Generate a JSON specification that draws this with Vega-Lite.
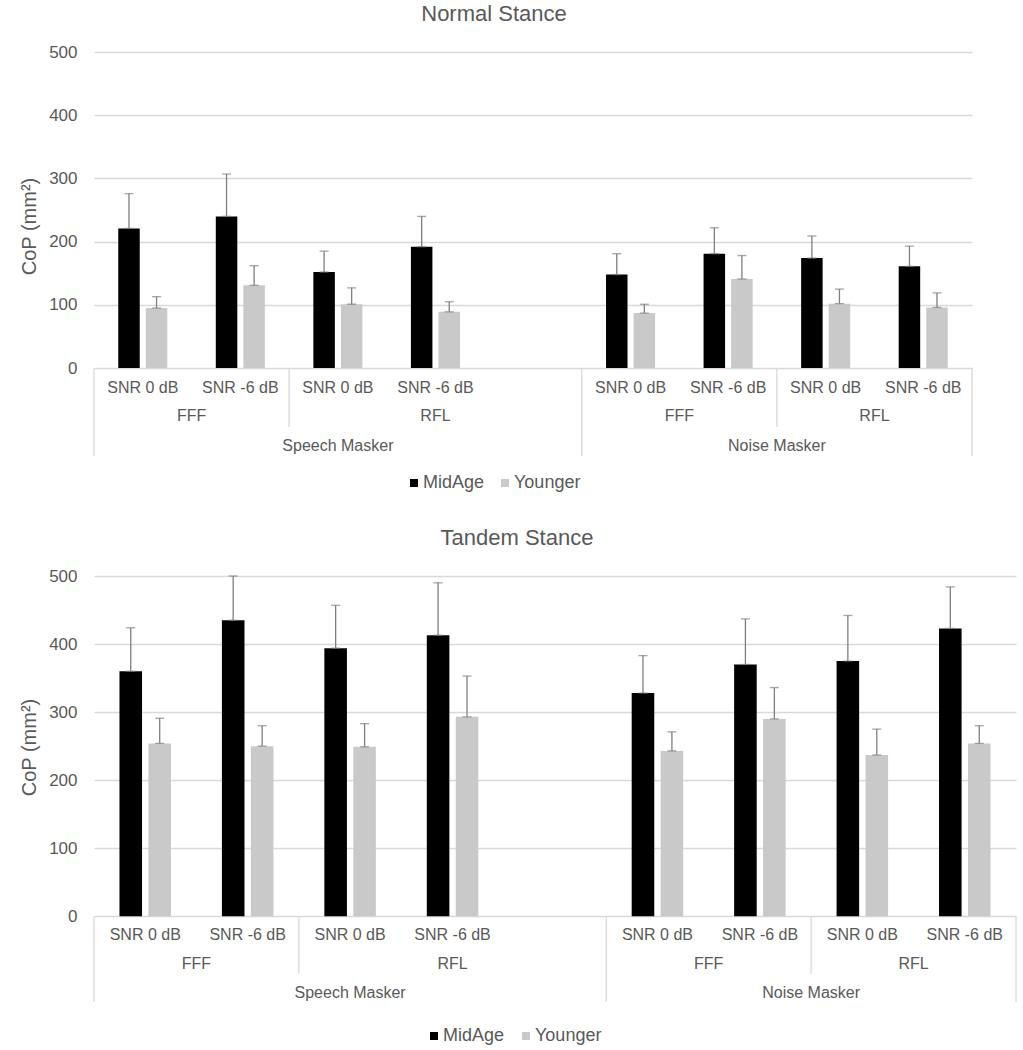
{
  "$schema": "https://vega.github.io/schema/vega-lite/v6.json",
  "padding": {"left": 19, "top": 3, "right": 5, "bottom": 5},
  "background": "white",
  "config": {
    "font": "Liberation Sans",
    "view": {"stroke": null},
    "axis": {"labelColor": "#595959", "titleColor": "#595959", "labelFont": "Liberation Sans", "titleFont": "Liberation Sans"},
    "legend": {"labelColor": "#595959", "labelFont": "Liberation Sans"}
  },
  "datasets": {
    "normal": [
      {"masker": "Speech Masker", "stim": "FFF", "snr": "SNR 0 dB", "slot": "1", "age": "MidAge", "mean": 221, "hi": 276},
      {"masker": "Speech Masker", "stim": "FFF", "snr": "SNR 0 dB", "slot": "1", "age": "Younger", "mean": 95, "hi": 113},
      {"masker": "Speech Masker", "stim": "FFF", "snr": "SNR -6 dB", "slot": "2", "age": "MidAge", "mean": 240, "hi": 307},
      {"masker": "Speech Masker", "stim": "FFF", "snr": "SNR -6 dB", "slot": "2", "age": "Younger", "mean": 131, "hi": 162},
      {"masker": "Speech Masker", "stim": "RFL", "snr": "SNR 0 dB", "slot": "3", "age": "MidAge", "mean": 152, "hi": 185},
      {"masker": "Speech Masker", "stim": "RFL", "snr": "SNR 0 dB", "slot": "3", "age": "Younger", "mean": 101, "hi": 127},
      {"masker": "Speech Masker", "stim": "RFL", "snr": "SNR -6 dB", "slot": "4", "age": "MidAge", "mean": 192, "hi": 240},
      {"masker": "Speech Masker", "stim": "RFL", "snr": "SNR -6 dB", "slot": "4", "age": "Younger", "mean": 89, "hi": 105},
      {"masker": "Noise Masker", "stim": "FFF", "snr": "SNR 0 dB", "slot": "6", "age": "MidAge", "mean": 148, "hi": 181},
      {"masker": "Noise Masker", "stim": "FFF", "snr": "SNR 0 dB", "slot": "6", "age": "Younger", "mean": 87, "hi": 101},
      {"masker": "Noise Masker", "stim": "FFF", "snr": "SNR -6 dB", "slot": "7", "age": "MidAge", "mean": 181, "hi": 222},
      {"masker": "Noise Masker", "stim": "FFF", "snr": "SNR -6 dB", "slot": "7", "age": "Younger", "mean": 141, "hi": 178},
      {"masker": "Noise Masker", "stim": "RFL", "snr": "SNR 0 dB", "slot": "8", "age": "MidAge", "mean": 174, "hi": 209},
      {"masker": "Noise Masker", "stim": "RFL", "snr": "SNR 0 dB", "slot": "8", "age": "Younger", "mean": 102, "hi": 125},
      {"masker": "Noise Masker", "stim": "RFL", "snr": "SNR -6 dB", "slot": "9", "age": "MidAge", "mean": 161, "hi": 193},
      {"masker": "Noise Masker", "stim": "RFL", "snr": "SNR -6 dB", "slot": "9", "age": "Younger", "mean": 96, "hi": 119}
    ],
    "tandem": [
      {"masker": "Speech Masker", "stim": "FFF", "snr": "SNR 0 dB", "slot": "1", "age": "MidAge", "mean": 360, "hi": 424},
      {"masker": "Speech Masker", "stim": "FFF", "snr": "SNR 0 dB", "slot": "1", "age": "Younger", "mean": 254, "hi": 291},
      {"masker": "Speech Masker", "stim": "FFF", "snr": "SNR -6 dB", "slot": "2", "age": "MidAge", "mean": 435, "hi": 500},
      {"masker": "Speech Masker", "stim": "FFF", "snr": "SNR -6 dB", "slot": "2", "age": "Younger", "mean": 250, "hi": 280},
      {"masker": "Speech Masker", "stim": "RFL", "snr": "SNR 0 dB", "slot": "3", "age": "MidAge", "mean": 394, "hi": 457},
      {"masker": "Speech Masker", "stim": "RFL", "snr": "SNR 0 dB", "slot": "3", "age": "Younger", "mean": 249, "hi": 283},
      {"masker": "Speech Masker", "stim": "RFL", "snr": "SNR -6 dB", "slot": "4", "age": "MidAge", "mean": 413, "hi": 490},
      {"masker": "Speech Masker", "stim": "RFL", "snr": "SNR -6 dB", "slot": "4", "age": "Younger", "mean": 293, "hi": 353},
      {"masker": "Noise Masker", "stim": "FFF", "snr": "SNR 0 dB", "slot": "6", "age": "MidAge", "mean": 328, "hi": 383},
      {"masker": "Noise Masker", "stim": "FFF", "snr": "SNR 0 dB", "slot": "6", "age": "Younger", "mean": 243, "hi": 271},
      {"masker": "Noise Masker", "stim": "FFF", "snr": "SNR -6 dB", "slot": "7", "age": "MidAge", "mean": 370, "hi": 437},
      {"masker": "Noise Masker", "stim": "FFF", "snr": "SNR -6 dB", "slot": "7", "age": "Younger", "mean": 290, "hi": 336},
      {"masker": "Noise Masker", "stim": "RFL", "snr": "SNR 0 dB", "slot": "8", "age": "MidAge", "mean": 375, "hi": 442},
      {"masker": "Noise Masker", "stim": "RFL", "snr": "SNR 0 dB", "slot": "8", "age": "Younger", "mean": 237, "hi": 275},
      {"masker": "Noise Masker", "stim": "RFL", "snr": "SNR -6 dB", "slot": "9", "age": "MidAge", "mean": 423, "hi": 484},
      {"masker": "Noise Masker", "stim": "RFL", "snr": "SNR -6 dB", "slot": "9", "age": "Younger", "mean": 254, "hi": 280}
    ],
    "stimEdge": [
      {"slot": "2", "label": "FFF"},
      {"slot": "7", "label": "FFF"},
      {"slot": "9", "label": "RFL"}
    ],
    "stimMid": [
      {"slot": "4", "label": "RFL"}
    ],
    "maskerEdge": [
      {"slot": "8", "label": "Noise Masker"}
    ],
    "maskerMid": [
      {"slot": "3", "label": "Speech Masker"}
    ],
    "longLeft": [
      {"slot": "1"},
      {"slot": "6"}
    ],
    "longRight": [
      {"slot": "9"}
    ],
    "shortLeft": [
      {"slot": "3"},
      {"slot": "8"}
    ]
  },
  "resolve": {
    "scale": {"color": "independent", "x": "independent", "y": "independent", "xOffset": "independent"},
    "legend": {"color": "independent"}
  },
  "spacing": 35,
  "vconcat": [
    {
      "width": 878,
      "height": 404,
      "title": {"text": "Normal Stance", "fontSize": 22, "fontWeight": "normal", "color": "#595959", "font": "Liberation Sans", "anchor": "middle", "dx": -39, "baseline": "alphabetic", "offset": 0},
      "layer": [
        {
          "data": {"name": "normal"},
          "mark": {"type": "bar"},
          "encoding": {
            "x": {"field": "slot", "type": "nominal", "scale": {"domain": ["1","2","3","4","5","6","7","8","9"], "paddingInner": 0, "paddingOuter": 0}, "axis": null},
            "xOffset": {"field": "age", "type": "nominal", "scale": {"domain": ["MidAge", "Younger"], "paddingInner": 0.22, "paddingOuter": 0.88}},
            "y": {"field": "mean", "type": "quantitative", "scale": {"domain": [-139, 500], "nice": false, "zero": false},
              "axis": {"values": [0, 100, 200, 300, 400, 500], "title": "CoP (mm²)", "titleFontSize": 20, "titleFontWeight": "normal", "titlePadding": 9, "titleY": 174, "labelFontSize": 17, "labelPadding": 17, "ticks": false, "tickSize": 0, "domain": false, "grid": true, "gridColor": "#D9D9D9", "gridWidth": 1.3}},
            "color": {"field": "age", "type": "nominal", "scale": {"domain": ["MidAge", "Younger"], "range": ["#000000", "#C9C9C9"]},
              "legend": {"title": null, "orient": "none", "direction": "horizontal", "legendX": 311, "legendY": 422, "symbolType": "square", "symbolSize": 64, "symbolStrokeWidth": 0, "labelFontSize": 18, "labelOffset": 0, "columnPadding": 11, "padding": 0}}
          }
        },
        {
          "data": {"name": "normal"},
          "mark": {"type": "rule", "color": "#7F7F7F", "strokeWidth": 1.3},
          "encoding": {
            "x": {"field": "slot", "type": "nominal", "scale": {"domain": ["1","2","3","4","5","6","7","8","9"], "paddingInner": 0, "paddingOuter": 0}},
            "xOffset": {"field": "age", "type": "nominal", "scale": {"domain": ["MidAge", "Younger"], "paddingInner": 0.22, "paddingOuter": 0.88}},
            "y": {"field": "mean", "type": "quantitative"},
            "y2": {"field": "hi"}
          }
        },
        {
          "data": {"name": "normal"},
          "mark": {"type": "tick", "color": "#7F7F7F", "thickness": 1.3, "size": 9, "orient": "horizontal"},
          "encoding": {
            "x": {"field": "slot", "type": "nominal", "scale": {"domain": ["1","2","3","4","5","6","7","8","9"], "paddingInner": 0, "paddingOuter": 0}},
            "xOffset": {"field": "age", "type": "nominal", "scale": {"domain": ["MidAge", "Younger"], "paddingInner": 0.22, "paddingOuter": 0.88}},
            "y": {"field": "hi", "type": "quantitative"}
          }
        },
        {
          "data": {"name": "normal"},
          "mark": {"type": "tick", "color": "#7F7F7F", "thickness": 1.3, "size": 9, "orient": "horizontal"},
          "encoding": {
            "x": {"field": "slot", "type": "nominal", "scale": {"domain": ["1","2","3","4","5","6","7","8","9"], "paddingInner": 0, "paddingOuter": 0}},
            "xOffset": {"field": "age", "type": "nominal", "scale": {"domain": ["MidAge", "Younger"], "paddingInner": 0.22, "paddingOuter": 0.88}},
            "y": {"field": "mean", "type": "quantitative"}
          }
        },
        {
          "data": {"name": "normal"},
          "transform": [{"filter": "datum.age === 'MidAge'"}],
          "mark": {"type": "text", "fontSize": 16, "color": "#595959", "baseline": "middle"},
          "encoding": {
            "x": {"field": "slot", "type": "nominal", "scale": {"domain": ["1","2","3","4","5","6","7","8","9"], "paddingInner": 0, "paddingOuter": 0}},
            "y": {"datum": -31, "type": "quantitative"},
            "text": {"field": "snr"}
          }
        },
        {
          "data": {"name": "stimEdge"},
          "mark": {"type": "text", "fontSize": 16, "color": "#595959", "baseline": "middle"},
          "encoding": {
            "x": {"field": "slot", "type": "nominal", "bandPosition": 0, "scale": {"domain": ["1","2","3","4","5","6","7","8","9"], "paddingInner": 0, "paddingOuter": 0}},
            "y": {"datum": -76, "type": "quantitative"},
            "text": {"field": "label"}
          }
        },
        {
          "data": {"name": "stimMid"},
          "mark": {"type": "text", "fontSize": 16, "color": "#595959", "baseline": "middle"},
          "encoding": {
            "x": {"field": "slot", "type": "nominal", "bandPosition": 0.5, "scale": {"domain": ["1","2","3","4","5","6","7","8","9"], "paddingInner": 0, "paddingOuter": 0}},
            "y": {"datum": -76, "type": "quantitative"},
            "text": {"field": "label"}
          }
        },
        {
          "data": {"name": "maskerEdge"},
          "mark": {"type": "text", "fontSize": 16, "color": "#595959", "baseline": "middle"},
          "encoding": {
            "x": {"field": "slot", "type": "nominal", "bandPosition": 0, "scale": {"domain": ["1","2","3","4","5","6","7","8","9"], "paddingInner": 0, "paddingOuter": 0}},
            "y": {"datum": -123, "type": "quantitative"},
            "text": {"field": "label"}
          }
        },
        {
          "data": {"name": "maskerMid"},
          "mark": {"type": "text", "fontSize": 16, "color": "#595959", "baseline": "middle"},
          "encoding": {
            "x": {"field": "slot", "type": "nominal", "bandPosition": 0.5, "scale": {"domain": ["1","2","3","4","5","6","7","8","9"], "paddingInner": 0, "paddingOuter": 0}},
            "y": {"datum": -123, "type": "quantitative"},
            "text": {"field": "label"}
          }
        },
        {
          "data": {"name": "longLeft"},
          "mark": {"type": "rule", "color": "#D9D9D9", "strokeWidth": 1.3},
          "encoding": {
            "x": {"field": "slot", "type": "nominal", "bandPosition": 0, "scale": {"domain": ["1","2","3","4","5","6","7","8","9"], "paddingInner": 0, "paddingOuter": 0}},
            "y": {"datum": 0, "type": "quantitative"},
            "y2": {"datum": -139}
          }
        },
        {
          "data": {"name": "longRight"},
          "mark": {"type": "rule", "color": "#D9D9D9", "strokeWidth": 1.3},
          "encoding": {
            "x": {"field": "slot", "type": "nominal", "bandPosition": 1, "scale": {"domain": ["1","2","3","4","5","6","7","8","9"], "paddingInner": 0, "paddingOuter": 0}},
            "y": {"datum": 0, "type": "quantitative"},
            "y2": {"datum": -139}
          }
        },
        {
          "data": {"name": "shortLeft"},
          "mark": {"type": "rule", "color": "#D9D9D9", "strokeWidth": 1.3},
          "encoding": {
            "x": {"field": "slot", "type": "nominal", "bandPosition": 0, "scale": {"domain": ["1","2","3","4","5","6","7","8","9"], "paddingInner": 0, "paddingOuter": 0}},
            "y": {"datum": 0, "type": "quantitative"},
            "y2": {"datum": -93}
          }
        }
      ]
    },
    {
      "width": 922,
      "height": 426,
      "title": {"text": "Tandem Stance", "fontSize": 22, "fontWeight": "normal", "color": "#595959", "font": "Liberation Sans", "anchor": "middle", "dx": -38, "baseline": "alphabetic", "offset": 0},
      "layer": [
        {
          "data": {"name": "tandem"},
          "mark": {"type": "bar"},
          "encoding": {
            "x": {"field": "slot", "type": "nominal", "scale": {"domain": ["1","2","3","4","5","6","7","8","9"], "paddingInner": 0, "paddingOuter": 0}, "axis": null},
            "xOffset": {"field": "age", "type": "nominal", "scale": {"domain": ["MidAge", "Younger"], "paddingInner": 0.22, "paddingOuter": 0.88}},
            "y": {"field": "mean", "type": "quantitative", "scale": {"domain": [-126, 500], "nice": false, "zero": false},
              "axis": {"values": [0, 100, 200, 300, 400, 500], "title": "CoP (mm²)", "titleFontSize": 20, "titleFontWeight": "normal", "titlePadding": 9, "titleY": 171, "labelFontSize": 17, "labelPadding": 17, "ticks": false, "tickSize": 0, "domain": false, "grid": true, "gridColor": "#D9D9D9", "gridWidth": 1.3}},
            "color": {"field": "age", "type": "nominal", "scale": {"domain": ["MidAge", "Younger"], "range": ["#000000", "#C9C9C9"]},
              "legend": {"title": null, "orient": "none", "direction": "horizontal", "legendX": 331, "legendY": 451, "symbolType": "square", "symbolSize": 64, "symbolStrokeWidth": 0, "labelFontSize": 18, "labelOffset": 0, "columnPadding": 12, "padding": 0}}
          }
        },
        {
          "data": {"name": "tandem"},
          "mark": {"type": "rule", "color": "#7F7F7F", "strokeWidth": 1.3},
          "encoding": {
            "x": {"field": "slot", "type": "nominal", "scale": {"domain": ["1","2","3","4","5","6","7","8","9"], "paddingInner": 0, "paddingOuter": 0}},
            "xOffset": {"field": "age", "type": "nominal", "scale": {"domain": ["MidAge", "Younger"], "paddingInner": 0.22, "paddingOuter": 0.88}},
            "y": {"field": "mean", "type": "quantitative"},
            "y2": {"field": "hi"}
          }
        },
        {
          "data": {"name": "tandem"},
          "mark": {"type": "tick", "color": "#7F7F7F", "thickness": 1.3, "size": 9, "orient": "horizontal"},
          "encoding": {
            "x": {"field": "slot", "type": "nominal", "scale": {"domain": ["1","2","3","4","5","6","7","8","9"], "paddingInner": 0, "paddingOuter": 0}},
            "xOffset": {"field": "age", "type": "nominal", "scale": {"domain": ["MidAge", "Younger"], "paddingInner": 0.22, "paddingOuter": 0.88}},
            "y": {"field": "hi", "type": "quantitative"}
          }
        },
        {
          "data": {"name": "tandem"},
          "mark": {"type": "tick", "color": "#7F7F7F", "thickness": 1.3, "size": 9, "orient": "horizontal"},
          "encoding": {
            "x": {"field": "slot", "type": "nominal", "scale": {"domain": ["1","2","3","4","5","6","7","8","9"], "paddingInner": 0, "paddingOuter": 0}},
            "xOffset": {"field": "age", "type": "nominal", "scale": {"domain": ["MidAge", "Younger"], "paddingInner": 0.22, "paddingOuter": 0.88}},
            "y": {"field": "mean", "type": "quantitative"}
          }
        },
        {
          "data": {"name": "tandem"},
          "transform": [{"filter": "datum.age === 'MidAge'"}],
          "mark": {"type": "text", "fontSize": 16, "color": "#595959", "baseline": "middle"},
          "encoding": {
            "x": {"field": "slot", "type": "nominal", "scale": {"domain": ["1","2","3","4","5","6","7","8","9"], "paddingInner": 0, "paddingOuter": 0}},
            "y": {"datum": -27, "type": "quantitative"},
            "text": {"field": "snr"}
          }
        },
        {
          "data": {"name": "stimEdge"},
          "mark": {"type": "text", "fontSize": 16, "color": "#595959", "baseline": "middle"},
          "encoding": {
            "x": {"field": "slot", "type": "nominal", "bandPosition": 0, "scale": {"domain": ["1","2","3","4","5","6","7","8","9"], "paddingInner": 0, "paddingOuter": 0}},
            "y": {"datum": -70, "type": "quantitative"},
            "text": {"field": "label"}
          }
        },
        {
          "data": {"name": "stimMid"},
          "mark": {"type": "text", "fontSize": 16, "color": "#595959", "baseline": "middle"},
          "encoding": {
            "x": {"field": "slot", "type": "nominal", "bandPosition": 0.5, "scale": {"domain": ["1","2","3","4","5","6","7","8","9"], "paddingInner": 0, "paddingOuter": 0}},
            "y": {"datum": -70, "type": "quantitative"},
            "text": {"field": "label"}
          }
        },
        {
          "data": {"name": "maskerEdge"},
          "mark": {"type": "text", "fontSize": 16, "color": "#595959", "baseline": "middle"},
          "encoding": {
            "x": {"field": "slot", "type": "nominal", "bandPosition": 0, "scale": {"domain": ["1","2","3","4","5","6","7","8","9"], "paddingInner": 0, "paddingOuter": 0}},
            "y": {"datum": -113, "type": "quantitative"},
            "text": {"field": "label"}
          }
        },
        {
          "data": {"name": "maskerMid"},
          "mark": {"type": "text", "fontSize": 16, "color": "#595959", "baseline": "middle"},
          "encoding": {
            "x": {"field": "slot", "type": "nominal", "bandPosition": 0.5, "scale": {"domain": ["1","2","3","4","5","6","7","8","9"], "paddingInner": 0, "paddingOuter": 0}},
            "y": {"datum": -113, "type": "quantitative"},
            "text": {"field": "label"}
          }
        },
        {
          "data": {"name": "longLeft"},
          "mark": {"type": "rule", "color": "#D9D9D9", "strokeWidth": 1.3},
          "encoding": {
            "x": {"field": "slot", "type": "nominal", "bandPosition": 0, "scale": {"domain": ["1","2","3","4","5","6","7","8","9"], "paddingInner": 0, "paddingOuter": 0}},
            "y": {"datum": 0, "type": "quantitative"},
            "y2": {"datum": -126}
          }
        },
        {
          "data": {"name": "longRight"},
          "mark": {"type": "rule", "color": "#D9D9D9", "strokeWidth": 1.3},
          "encoding": {
            "x": {"field": "slot", "type": "nominal", "bandPosition": 1, "scale": {"domain": ["1","2","3","4","5","6","7","8","9"], "paddingInner": 0, "paddingOuter": 0}},
            "y": {"datum": 0, "type": "quantitative"},
            "y2": {"datum": -126}
          }
        },
        {
          "data": {"name": "shortLeft"},
          "mark": {"type": "rule", "color": "#D9D9D9", "strokeWidth": 1.3},
          "encoding": {
            "x": {"field": "slot", "type": "nominal", "bandPosition": 0, "scale": {"domain": ["1","2","3","4","5","6","7","8","9"], "paddingInner": 0, "paddingOuter": 0}},
            "y": {"datum": 0, "type": "quantitative"},
            "y2": {"datum": -85}
          }
        }
      ]
    }
  ]
}
